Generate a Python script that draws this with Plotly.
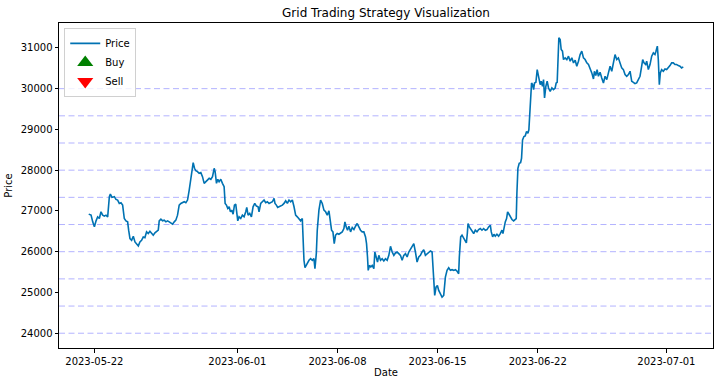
import pandas as pd
import plotly.graph_objects as go

BASE_DATE = "2023-05-22"

# hours after 2023-05-22 00:00 and price
hours = [
    -9.4, -5.5, -2.7, 0.1, 2.9, 5.6, 8.4, 11.2, 14.0, 16.8, 19.6, 22.4, 25.2, 26.9, 29.6, 33.6,
    36.3, 39.1, 41.9, 44.7, 47.5, 50.3, 53.1, 55.9, 57.6, 59.8, 62.6, 65.4, 68.2, 71.0, 73.8,
    76.5, 79.3, 82.1, 84.9, 87.7, 90.5, 93.3, 96.1, 98.9, 101.7, 104.5, 107.3, 108.9, 111.7,
    114.5, 117.3, 120.1, 122.9, 125.7, 128.5, 131.3, 134.1, 136.8, 139.6, 142.4, 145.2, 148.0,
    150.8, 153.6, 156.4, 159.2, 162.0, 163.6, 165.9, 168.1, 170.3, 173.1, 175.9, 178.7, 181.5,
    184.3,
    187.1, 189.9, 192.7, 195.5, 198.3, 201.1, 202.7, 205.0, 207.2, 209.4, 212.2, 215.0, 217.8,
    219.5, 221.7, 224.0, 226.2, 228.4, 230.6, 232.9, 235.1, 237.3, 239.0, 240.7, 242.9, 245.7,
    248.5, 251.3, 254.1, 255.8, 258.0, 260.8, 263.6, 266.4, 269.2, 272.0, 274.8, 276.4, 279.2,
    282.0, 284.8, 287.6, 290.4, 293.2, 296.0, 298.8, 301.6, 303.2, 305.5, 307.7, 309.9, 312.7,
    315.5, 318.3, 321.1, 323.9, 326.7, 329.5, 332.3, 335.1, 337.8, 340.6, 343.4, 346.2, 349.0,
    350.1, 351.8, 353.5, 355.7, 357.9, 360.2, 363.0, 365.8, 368.5, 370.2, 372.5, 374.1, 376.9,
    379.7, 382.5, 385.3,
    388.1, 390.9, 393.7, 395.9, 398.1, 400.4, 402.6, 404.8, 407.6, 410.4, 413.2, 416.0, 418.8,
    420.5, 422.7, 424.9, 427.2, 430.0, 432.8, 435.6, 438.3, 441.1, 443.9, 446.7, 449.5, 452.3,
    455.1, 456.8, 458.4, 459.6, 461.8, 464.0, 466.3, 469.1, 470.7, 473.0, 475.2, 477.4, 480.2,
    483.0, 485.8, 488.6, 491.4, 494.2, 497.0, 499.8, 502.6, 505.3, 508.1, 510.9, 513.7, 516.5,
    519.3, 522.1, 524.9, 527.7, 530.5, 533.3, 536.1, 538.8, 541.6, 544.4, 547.2, 550.0, 552.8,
    555.6, 558.4, 561.2, 564.0, 566.8, 568.4, 570.1, 571.2, 573.4, 575.7, 577.9, 580.7, 583.5,
    586.3,
    589.1, 591.9, 594.7, 597.5, 600.3, 603.1, 605.9, 608.6, 611.4, 612.5, 614.8, 617.0, 619.8,
    622.6, 624.3, 625.9, 627.1, 629.3, 631.5, 633.8, 636.6, 639.3, 642.1, 644.9, 647.7, 650.5,
    653.3, 656.1, 658.9, 661.7, 664.5, 666.1, 668.4, 670.6, 672.8, 675.6, 678.4, 681.2, 684.0,
    685.7, 687.4, 689.6, 691.8, 693.5, 695.2, 698.0, 700.8, 703.6, 706.3, 708.0, 709.1, 710.8,
    713.0, 715.3, 716.9, 718.6, 720.9, 723.1, 725.3, 727.6, 729.2, 730.4, 732.0, 733.7, 735.4,
    737.1, 738.7, 741.0, 743.2, 744.9, 746.5, 748.2, 749.9, 752.1, 753.8, 755.5, 757.7, 759.9,
    762.2, 765.0, 767.8, 770.5, 773.3, 775.0, 776.7, 777.8, 779.5, 781.7, 783.4, 785.6, 787.3,
    790.1, 792.9, 795.7, 798.5, 801.3, 804.1, 806.9, 809.6, 812.4, 815.2, 818.0, 820.8, 823.6,
    826.4, 829.2, 832.0, 834.8, 837.6, 839.2, 841.5, 843.7, 845.9, 848.7, 851.5, 854.3, 857.1,
    859.9, 862.7, 865.5, 868.3, 871.1, 873.8, 876.6, 879.4, 882.2, 885.0, 887.8, 890.6, 893.4,
    896.2, 899.0, 901.8, 904.6, 907.3, 910.1, 912.9, 915.7, 918.5, 920.2, 922.4, 925.2, 926.9,
    929.7, 932.5, 935.3, 938.1, 940.8, 942.5, 944.8, 946.4, 948.1, 949.8, 952.0, 954.8, 957.6,
    960.4, 963.2, 966.0, 968.8, 971.6, 974.4, 977.2, 980.0, 982.7, 985.5, 988.3,
]

prices = [
    26922, 26897, 26733, 26610, 26757, 26856, 26815, 26979, 26897, 26872, 26897, 26856, 27349,
    27414, 27332, 27349, 27283, 27267, 27184, 27201, 27143, 26815, 26757, 26733, 26528, 26322,
    26281, 26380, 26240, 26183, 26142, 26240, 26281, 26363, 26347, 26487, 26446, 26503, 26446,
    26405, 26462, 26487, 26528, 26757, 26799, 26757, 26774, 26733, 26757, 26733, 26708, 26675,
    26733, 26774, 26897, 27143, 27184, 27209, 27225, 27201, 27267, 27513, 27759, 28005, 28186,
    28046, 27989, 27964, 27923, 27940, 27841, 27677,
    27718, 27759, 27800, 27776, 27841, 28046, 27964, 27677, 27776, 27718, 27776, 27677, 27595,
    27184, 27143, 27061, 27102, 26979, 27020, 26922, 27143, 27168, 26979, 26757, 26856, 26815,
    26897, 26856, 26979, 27086, 26897, 26938, 26856, 27102, 27184, 27119, 27102, 26979, 27184,
    27225, 27267, 27201, 27225, 27184, 27201, 27225, 27308, 27184, 27143, 27086, 27102, 27119,
    27143, 27184, 27250, 27184, 27267, 27225, 27267, 27102, 26897, 26856, 26815, 26757, 26815,
    26363, 25789, 25608, 25666, 25748, 25789, 25830, 25789, 25830, 25583, 25953, 26528, 27020,
    27267, 27184, 27020,
    26979, 26897, 27003, 26773, 26527, 26486, 26198, 26404, 26445, 26428, 26461, 26486, 26568,
    26732, 26609, 26527, 26625, 26486, 26593, 26543, 26625, 26691, 26609, 26527, 26486, 26486,
    26363, 26198, 25870, 25542, 25665, 25624, 25665, 25583, 25993, 25870, 25747, 25911, 25788,
    25829, 25772, 25829, 25788, 25911, 26133, 25993, 25911, 25969, 25993, 25952, 25911, 25788,
    25911, 25952, 25870, 25993, 26051, 26116, 26198, 25993, 25747, 25870, 25911, 25993, 26051,
    25911, 25952, 25993, 26018, 25993, 25624, 25213, 24926, 25131, 25172, 25049, 24967, 24885,
    24926,
    25378, 25542, 25608, 25542, 25558, 25542, 25558, 25525, 25460, 25870, 26363, 26404, 26322,
    26281, 26215, 26445, 26691, 26609, 26568, 26527, 26445, 26527, 26486, 26543, 26568, 26527,
    26568, 26527, 26543, 26609, 26650, 26486, 26363, 26428, 26379, 26428, 26379, 26445, 26527,
    26445, 26609, 26732, 26814, 26978, 26937, 26855, 26790, 26757, 26790, 26814, 27430, 28046,
    28169, 28185, 28292, 28744, 28826, 28842, 28949, 28908, 28990, 29401, 29811, 30139, 30098,
    29975, 30139, 30156, 30468, 30345, 30304, 30098, 30181, 30057, 30222, 29770, 30057, 30181,
    30016, 29934, 30016, 29975, 30016, 30139, 30156, 30632, 31248, 31207, 30960, 30920, 30714,
    30755, 30714, 30796, 30673, 30755, 30632, 30698, 30550, 30673, 30837, 30919, 30755, 30714,
    30632, 30591, 30509, 30386, 30238, 30427, 30320, 30468, 30304, 30402, 30263, 30139, 30304,
    30222, 30386, 30550, 30427, 30632, 30837, 30714, 30755, 30632, 30509, 30468, 30345, 30304,
    30345, 30427, 30181, 30156, 30123, 30139, 30222, 30304, 30550, 30714, 30632, 30591, 30673,
    30468, 30591, 30796, 30878, 30837, 30919, 31043, 30714, 30098, 30386, 30468, 30427, 30484,
    30468, 30509, 30566, 30632, 30632, 30591, 30591, 30566, 30550, 30509, 30534,
]

grid_levels = [24000, 24666.67, 25333.33, 26000, 26666.67, 27333.33, 28000, 28666.67, 29333.33, 30000]
x_tick_dates = ["2023-05-22", "2023-06-01", "2023-06-08", "2023-06-15", "2023-06-22", "2023-07-01"]
y_ticks = [24000, 25000, 26000, 27000, 28000, 29000, 30000, 31000]

times = pd.Timestamp(BASE_DATE) + pd.to_timedelta(hours, unit="h")

FONT = "DejaVu Sans"

fig = go.Figure()
fig.add_trace(go.Scatter(x=times, y=prices, mode="lines", name="Price",
                         line=dict(color="#0072b2", width=1.6)))
fig.add_trace(go.Scatter(x=[None], y=[None], mode="markers", name="Buy",
                         marker=dict(symbol="triangle-up", color="green", size=14)))
fig.add_trace(go.Scatter(x=[None], y=[None], mode="markers", name="Sell",
                         marker=dict(symbol="triangle-down", color="red", size=14)))

for lvl in grid_levels:
    fig.add_shape(type="line", xref="paper", yref="y", x0=0, x1=1, y0=lvl, y1=lvl,
                  line=dict(color="rgba(0,0,255,0.3)", width=1, dash="6px,3.5px"), layer="below")

# autoscale like matplotlib: 5% margins
tmin, tmax = times.min(), times.max()
tpad = (tmax - tmin) * 0.05
ylo = min(min(prices), min(grid_levels))
yhi = max(max(prices), max(grid_levels))
ypad = (yhi - ylo) * 0.05

fig.update_layout(
    width=720, height=385,
    margin=dict(l=59, r=7, t=23, b=37, autoexpand=False),
    paper_bgcolor="white", plot_bgcolor="white",
    font=dict(family=FONT, size=10, color="black"),
    title=dict(text="Grid Trading Strategy Visualization", x=0.5, xanchor="center",
               xref="paper", y=0.966, yanchor="middle", automargin=False,
               font=dict(size=12, family=FONT)),
    legend=dict(x=0.008, y=0.985, xanchor="left", yanchor="top",
                bordercolor="#d0d0d0", borderwidth=1, bgcolor="rgba(255,255,255,0.8)",
                font=dict(size=10), itemwidth=30, tracegroupgap=0),
    showlegend=True,
    hovermode=False,
)
fig.update_xaxes(
    range=[tmin - tpad, tmax + tpad], showgrid=False, zeroline=False, automargin=False,
    showline=True, linecolor="black", linewidth=1, mirror=True,
    ticks="outside", ticklen=3.5, tickcolor="black",
    tickvals=pd.to_datetime(x_tick_dates), tickformat="%Y-%m-%d",
    title=dict(text="Date", standoff=3, font=dict(size=10)),
)
fig.update_yaxes(
    range=[ylo - ypad, yhi + ypad], showgrid=False, zeroline=False, automargin=False,
    showline=True, linecolor="black", linewidth=1, mirror=True,
    ticks="outside", ticklen=3.5, tickcolor="black",
    tickvals=y_ticks, tickformat="d",
    title=dict(text="Price", standoff=6, font=dict(size=10)),
)

fig.write_html(
    "out.html",
    config={"displayModeBar": False},
    post_script="document.body.style.margin='0';document.body.style.overflow='hidden';",
)
